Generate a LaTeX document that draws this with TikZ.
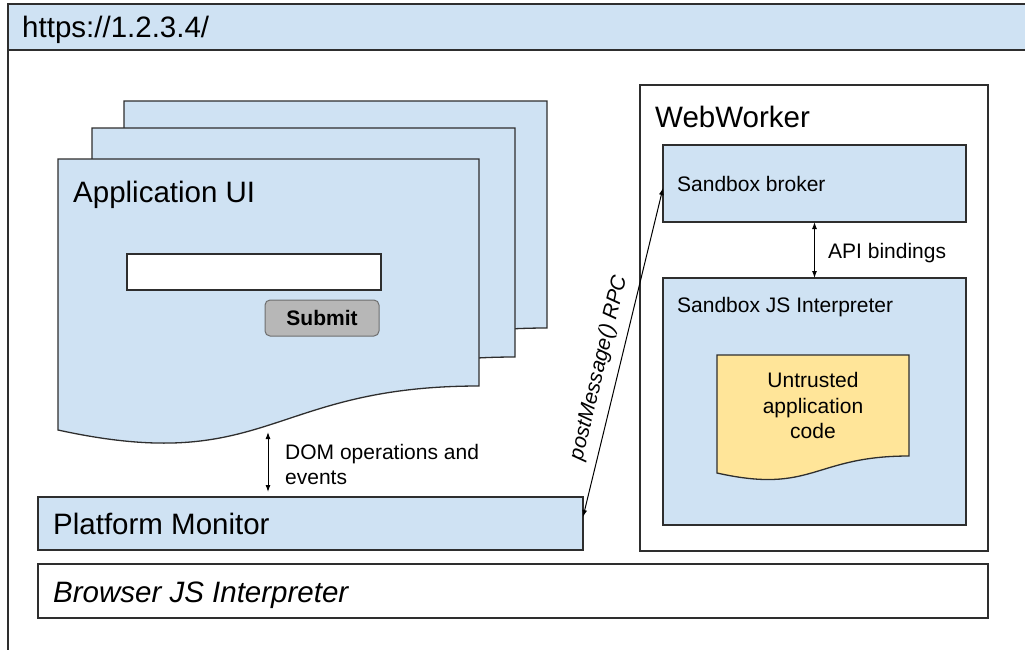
\documentclass[tikz,border=0pt]{standalone}
\usepackage{fontspec}
\setmainfont{Liberation Sans}
\usetikzlibrary{arrows.meta}

\definecolor{paneblue}{HTML}{CFE2F3}
\definecolor{codeyellow}{HTML}{FFE599}
\definecolor{btngray}{HTML}{B7B7B7}
\definecolor{btnedge}{HTML}{6E6E6E}
\definecolor{edge}{HTML}{2E2E2E}

\newcommand\bigfont{\fontsize{29.5}{35}\selectfont}
\newcommand\smallfont{\fontsize{21}{25.5}\selectfont}

\begin{document}
\begin{tikzpicture}[x=1pt,y=-1pt,
  frame/.style={draw=edge,line width=1.3pt},
  box/.style={frame,anchor=north west,inner sep=0pt,outer sep=0pt},
  bluebox/.style={box,fill=paneblue},
  whitebox/.style={box,fill=white},
  bigtext/.style={anchor=base west,inner sep=0pt,font=\bigfont},
  smalltext/.style={anchor=base west,inner sep=0pt,font=\smallfont},
  linetext/.style={anchor=base,inner sep=0pt,font=\smallfont},
  link/.style={draw=black,line width=1pt,
    {Latex[length=7pt,width=5pt]}-{Latex[length=7pt,width=5pt]}},
]
\useasboundingbox (0,0) rectangle (1025,649);
\clip (0,0) rectangle (1025,649);

% browser window with its address bar
\draw[frame] (8,4) rectangle (1040,670);
\node[bluebox,minimum width=1032,minimum height=46] (urlbar) at (8,4) {};
\node[bigtext] (urltext) at (22,37) {https://1.2.3.4/};

% stack of application pages, each with a wavy lower edge
\draw[frame,fill=paneblue,shift={(124,101)}]
  (0,0) -- (423,0) -- (423,227) .. controls (211.5,227) and (211.5,317) .. (0,271) -- cycle;
\draw[frame,fill=paneblue,shift={(92,128)}]
  (0,0) -- (423,0) -- (423,229) .. controls (211.5,229) and (211.5,318) .. (0,272) -- cycle;
\draw[frame,fill=paneblue,shift={(58,159)}]
  (0,0) -- (421,0) -- (421,227) .. controls (210.5,227) and (210.5,317) .. (0,271) -- cycle;
\node[bigtext] (uititle) at (73,202) {Application UI};
\node[whitebox,minimum width=254,minimum height=36] (field) at (127,254) {};
\node[box,anchor=center,fill=btngray,draw=btnedge,line width=1pt,rounded corners=5pt,
  minimum width=114,minimum height=36,font=\smallfont\bfseries] (submit) at (322,318) {Submit};

% platform monitor and browser interpreter
\node[bluebox,minimum width=545,minimum height=53] (monitor) at (38,497) {};
\node[bigtext] (monitortitle) at (53,534) {Platform Monitor};
\node[whitebox,minimum width=950,minimum height=54] (browserjs) at (38,564) {};
\node[bigtext,font=\bigfont\itshape] (browsertitle) at (53,602) {Browser JS Interpreter};

% DOM traffic between the pages and the monitor
\coordinate (domtop) at (268,432);
\coordinate (dombot) at (268,492);
\draw[link] (domtop) -- (dombot);
\node[smalltext] (domlabel1) at (285,459) {DOM operations and};
\node[smalltext] (domlabel2) at (285,484) {events};

% web worker
\node[whitebox,minimum width=348,minimum height=466] (worker) at (640,85) {};
\node[bigtext] (workertitle) at (655,127) {WebWorker};
\node[bluebox,minimum width=303,minimum height=77] (broker) at (663,145) {};
\node[smalltext] (brokertitle) at (677,191) {Sandbox broker};
\node[bluebox,minimum width=303,minimum height=247] (sbinterp) at (663,278) {};
\node[smalltext] (interptitle) at (677,312) {Sandbox JS Interpreter};
\draw[link] (broker.south) -- (sbinterp.north);
\node[smalltext] (apilabel) at (828,258) {API bindings};

% untrusted code sheet
\draw[frame,fill=codeyellow,shift={(717,355)}]
  (0,0) -- (192,0) -- (192,101) .. controls (96,101) and (96,139.5) .. (0,118) -- cycle;
\node[linetext] (code1) at (813,387) {Untrusted};
\node[linetext] (code2) at (813,413) {application};
\node[linetext] (code3) at (813,438) {code};

% message channel between monitor and broker
\draw[link] ([yshift=6.5pt]monitor.east) -- ([yshift=-4.5pt]broker.west);
\node[rotate=76.5,inner sep=0pt,font=\smallfont\itshape] (rpclabel) at (599,368) {postMessage() RPC};
\end{tikzpicture}
\end{document}
